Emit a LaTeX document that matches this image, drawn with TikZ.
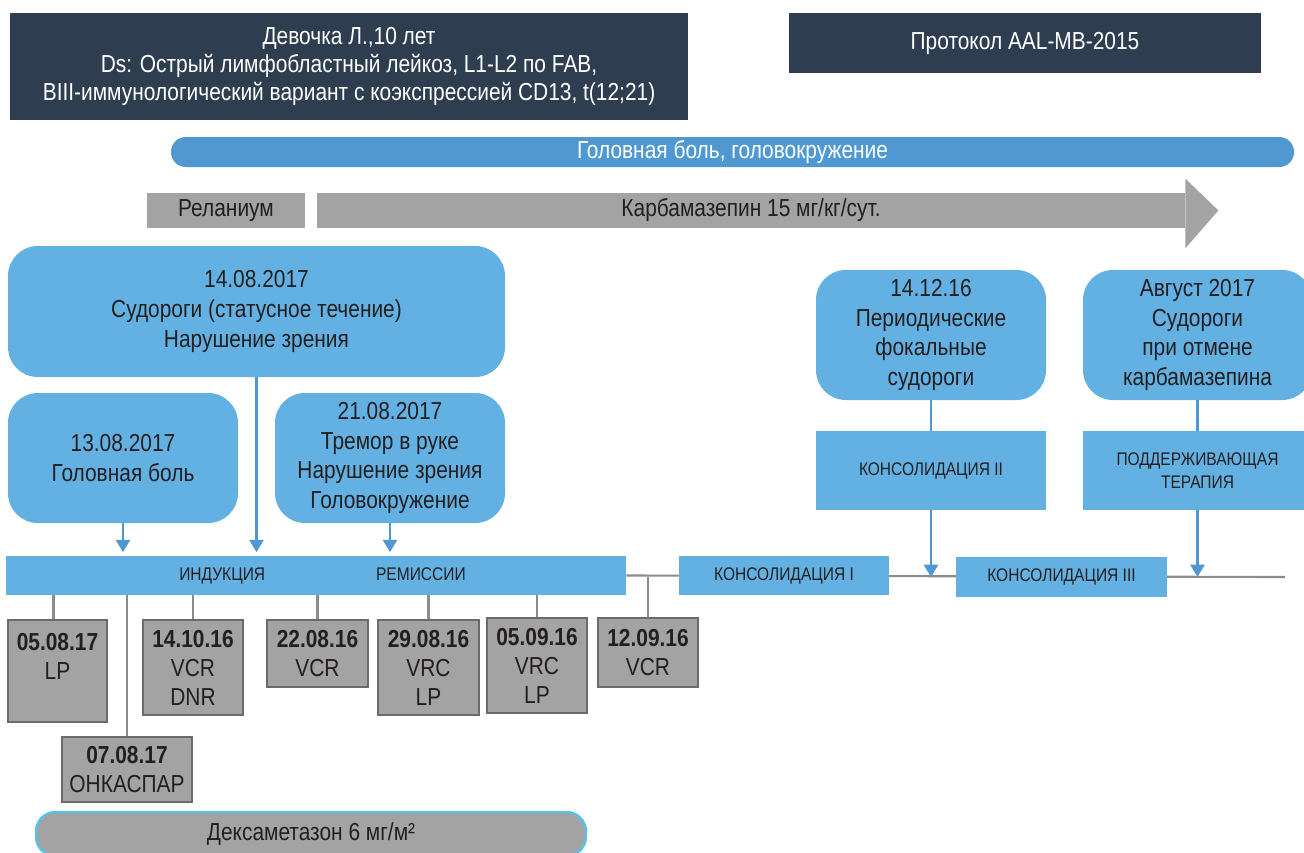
\documentclass[tikz,border=0pt]{standalone}
\usepackage{fontspec}
\setmainfont{Liberation Sans}[FakeStretch=0.85]
\usepackage{tikz}
\usetikzlibrary{positioning,arrows.meta,backgrounds,calc}
\definecolor{darkc}{HTML}{2E3D4F}
\definecolor{pillc}{HTML}{4F98D2}
\definecolor{boxc}{HTML}{62B1E2}
\definecolor{greyc}{HTML}{A3A3A3}
\definecolor{gedge}{HTML}{6B6B6B}
\definecolor{linec}{HTML}{8C8C8C}
\definecolor{arrc}{HTML}{4F98D2}
\definecolor{txtc}{HTML}{231F20}
\definecolor{dexac}{HTML}{54C4EF}

\begin{document}
\begin{tikzpicture}[
    x=0.02cm, y=-0.02cm,
    area/.style n args={4}{at={({(#1+#3)/2},{(#2+#4)/2})}, minimum width={0.02cm*(#3-#1)}, minimum height={0.02cm*(#4-#2)}},
    darkbox/.style={fill=darkc, text=white, inner sep=0pt, align=center, font=\fontsize{14}{16}\selectfont},
    rbox/.style={fill=boxc, text=txtc, rounded corners=17pt, inner sep=0pt, align=center, font=\fontsize{14}{17}\selectfont},
    bbar/.style={fill=boxc, text=txtc, inner sep=0pt, align=center, font=\fontsize{10.4}{13}\selectfont},
    gbar/.style={fill=greyc, text=txtc, inner sep=0pt, font=\fontsize{14}{16}\selectfont},
    gbox/.style={draw=gedge, line width=1.5pt, fill=greyc, text=txtc, inner sep=0pt, align=center, font=\fontsize{14}{16.5}\selectfont},
    link/.style={draw=linec, line width=1.2pt},
    arr/.style={draw=arrc, line width=1.4pt, -{Triangle[width=8pt,length=7pt]}}
]
\useasboundingbox (0,0) rectangle (1304,852);

% header
\node[darkbox, area={10}{13}{688}{120}] (pat) {Девочка Л.,10 лет\\Ds: Острый лимфобластный лейкоз, L1-L2 по FAB,\\BIII-иммунологический вариант с коэкспрессией CD13, t(12;21)};
\node[darkbox, area={789}{13}{1261}{73}] (prot) {Протокол AAL-MB-2015};

% symptoms and drugs
\node[fill=pillc, text=white, rounded corners=8.4pt, inner sep=0pt, font=\fontsize{14}{16}\selectfont, area={171}{137}{1294}{167}] (head) {Головная боль, головокружение};
\node[gbar, area={147}{193}{305}{228}] (rel) {Реланиум};
\node[gbar, area={317}{193}{1185}{228}] (karb) {Карбамазепин 15 мг/кг/сут.};
\fill[greyc] (karb.north east) -- ++(0,-14) -- ($(karb.east)+(33,0)$) -- ($(karb.south east)+(0,20)$) -- (karb.south east) -- cycle;

% events
\node[rbox, area={8}{246}{505}{377}] (s1408) {14.08.2017\\Судороги (статусное течение)\\Нарушение зрения};
\node[rbox, area={8}{393}{238}{523}] (s1308) {13.08.2017\\Головная боль};
\node[rbox, area={275}{393}{505}{523}] (s2108) {21.08.2017\\Тремор в руке\\Нарушение зрения\\Головокружение};
\node[rbox, area={816}{270}{1046}{400}] (s1412) {14.12.16\\Периодические\\фокальные\\судороги};
\node[rbox, area={1083}{270}{1312}{400}] (saug) {Август 2017\\Судороги\\при отмене\\карбамазепина};

% phases
\node[bbar, area={816}{431}{1046}{510}] (kons2) {КОНСОЛИДАЦИЯ II};
\node[bbar, area={1083}{431}{1312}{510}] (podd) {ПОДДЕРЖИВАЮЩАЯ\\ТЕРАПИЯ};
\node[bbar, area={6}{556}{626}{595}] (ind) {\hspace{0.26cm}ИНДУКЦИЯ\hspace{2.22cm}РЕМИССИИ};
\node[bbar, area={679}{556}{889}{595}] (kons1) {КОНСОЛИДАЦИЯ I};
\node[bbar, area={956}{557}{1167}{597}] (kons3) {КОНСОЛИДАЦИЯ III};
\coordinate (tend) at (1285,577);

% treatment
\node[gbox, area={8}{620}{107}{722}] (p1) {\textbf{05.08.17}\\LP\\~};
\node[gbox, area={62}{737}{192}{802}] (p2) {\textbf{07.08.17}\\ОНКАСПАР};
\node[gbox, area={143}{620}{243}{715}] (p3) {\textbf{14.10.16}\\VCR\\DNR};
\node[gbox, area={267}{620}{368}{687}] (p4) {\textbf{22.08.16}\\VCR};
\node[gbox, area={378}{620}{479}{715}] (p5) {\textbf{29.08.16}\\VRC\\LP};
\node[gbox, area={487}{618}{587}{713}] (p6) {\textbf{05.09.16}\\VRC\\LP};
\node[gbox, area={598}{618}{698}{687}] (p7) {\textbf{12.09.16}\\VCR};
\node[fill=greyc, draw=dexac, line width=1.3pt, rounded corners=11pt, inner sep=0pt, text=txtc, font=\fontsize{14}{16}\selectfont, area={36}{812}{586}{856}] (dexa) {Дексаметазон 6 мг/м²};

\begin{scope}[on background layer]
\draw[link] (ind.east) -- (tend);
\end{scope}

\draw[link] ([xshift=-4*0.02cm]p1.north) -- ([xshift=-4*0.02cm]p1.north |- ind.south);
\draw[link] (p2.north) -- (p2.north |- ind.south);
\draw[link] (p3.north) -- (p3.north |- ind.south);
\draw[link] (p4.north) -- (p4.north |- ind.south);
\draw[link] (p5.north) -- (p5.north |- ind.south);
\draw[link] (p6.north) -- (p6.north |- ind.south);
\draw[link] (p7.north) -- (p7.north |- tend);

\draw[arr, shorten >=2pt] (s1308.south) -- (s1308.south |- ind.north);
\draw[arr, shorten >=2pt] (s1408.south) -- (s1408.south |- ind.north);
\draw[arr, shorten >=2pt] (s2108.south) -- (s2108.south |- ind.north);
\draw[arrc, line width=1.4pt] (s1412.south) -- (kons2.north);
\draw[arrc, line width=1.4pt] (saug.south) -- (podd.north);
\draw[arr] (kons2.south) -- (kons2.south |- tend);
\draw[arr] (podd.south) -- (podd.south |- tend);
\end{tikzpicture}
\end{document}
